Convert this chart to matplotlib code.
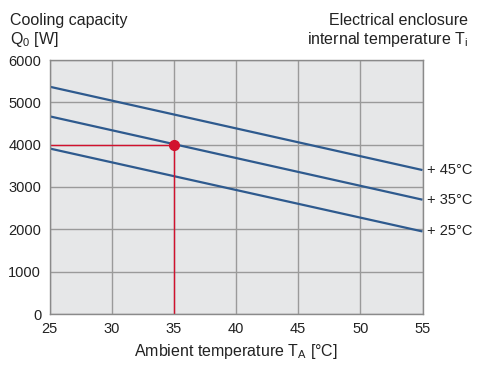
import matplotlib
matplotlib.use("Agg")
import matplotlib.pyplot as plt

plt.rcParams['font.family'] = ['Liberation Sans', 'DejaVu Sans']
plt.rcParams['mathtext.fontset'] = 'custom'
plt.rcParams['mathtext.rm'] = 'Liberation Sans'
plt.rcParams['mathtext.it'] = 'Liberation Sans'

# Data
ambient_temps = [25, 55]
curve_labels = ["+ 45\u00b0C", "+ 35\u00b0C", "+ 25\u00b0C"]
curve_values = [
    [5370, 3400],   # +45 °C
    [4670, 2700],   # +35 °C
    [3910, 1950],   # +25 °C
]
op_point = (35, 4000)
x_ticks = [25, 30, 35, 40, 45, 50, 55]
y_ticks = [0, 1000, 2000, 3000, 4000, 5000, 6000]

W, H = 497, 374
fig = plt.figure(figsize=(W / 100, H / 100), dpi=100)
ax = fig.add_axes([49.5 / W, 1 - 314 / H, (422.5 - 49.5) / W, (314 - 60) / H])

bg = '#e6e7e8'
grid_c = '#9a9a9a'
blue = '#2e5a8e'
red = '#d2112e'

ax.set_facecolor(bg)
ax.set_xlim(25, 55)
ax.set_ylim(0, 6000)
ax.set_xticks(x_ticks)
ax.set_yticks(y_ticks)
ax.grid(True, color=grid_c, linewidth=1.0)
ax.set_axisbelow(True)
for s in ax.spines.values():
    s.set_color('#8a8a8a')
    s.set_linewidth(1.0)
ax.tick_params(length=0, labelsize=10.5, colors='#222222', pad=6)

for vals, lab in zip(curve_values, curve_labels):
    ax.plot(ambient_temps, vals, color=blue, lw=1.6, solid_capstyle='butt')
    ax.text(55.4, vals[1], lab, fontsize=10.5, va='center', ha='left',
            color='#222222', clip_on=False)

ax.plot([25, op_point[0]], [op_point[1], op_point[1]], color=red, lw=1.0)
ax.plot([op_point[0], op_point[0]], [0, op_point[1]], color=red, lw=1.0)
ax.plot([op_point[0]], [op_point[1]], 'o', color=red, ms=7, zorder=5)

ax.set_xlabel(r"Ambient temperature T$_\mathregular{A}$ [°C]", fontsize=11.5,
              color='#222222', labelpad=4)

fig.text(10 / W, 1 - 13 / H, "Cooling capacity\nQ$_\\mathregular{0}$ [W]", fontsize=11.5,
         va='top', ha='left', color='#222222', linespacing=1.15)
fig.text(468 / W, 1 - 13 / H, "Electrical enclosure\ninternal temperature T$_\\mathregular{i}$",
         fontsize=11.5, va='top', ha='right', color='#222222', linespacing=1.15)

fig.savefig("out.png", dpi=100, facecolor='white')
